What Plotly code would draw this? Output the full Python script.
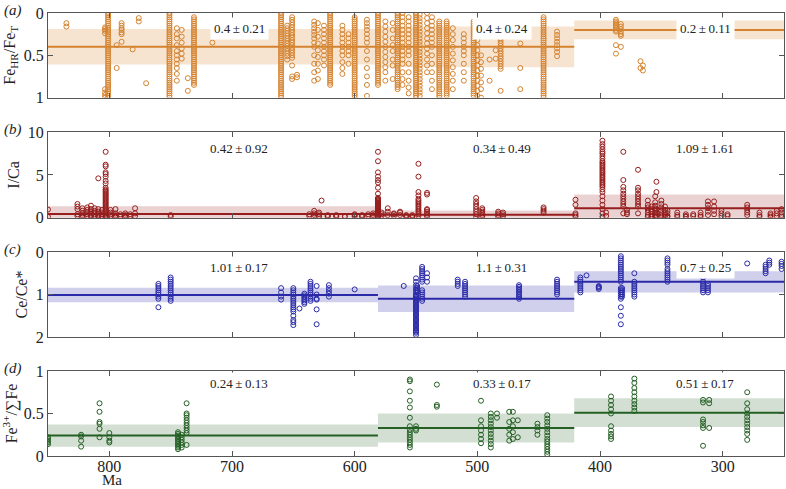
import plotly.graph_objects as go

# segment boundaries (Ma)
seg_start = [850, 581, 421]
seg_end = [581, 421, 250]

# (a) FeHR/FeT
fe_mean = [0.4, 0.4, 0.2]
fe_sd = [0.21, 0.24, 0.11]
fe_cols = [
    (835, [0.12, 0.16]),
    (803.5, [0.17, 0.19, 0.21, 0.24, 0.9, 0.94, 0.97, 1.0]),
    (801, [0.0, 0.025, 0.05, 0.075, 0.1, 0.125, 0.15, 0.175, 0.2, 0.225, 0.25, 0.275, 0.3,
           0.325, 0.35, 0.375, 0.4, 0.425, 0.45, 0.475, 0.5, 0.525, 0.55, 0.575, 0.6, 0.625,
           0.65, 0.675, 0.7, 0.725, 0.75, 0.775, 0.8, 0.825, 0.85, 0.875, 0.9, 0.925, 0.95,
           0.975, 1.0]),
    (794, [0.38, 0.65]),
    (790, [0.12, 0.15, 0.18, 0.2, 0.23, 0.25, 0.34]),
    (781, [0.43]),
    (776, [0.06, 0.1]),
    (770, [0.83]),
    (751, [0.0, 0.025, 0.05, 0.075, 0.1, 0.125, 0.15, 0.175, 0.2, 0.225, 0.25, 0.275, 0.3,
           0.325, 0.35, 0.375, 0.4, 0.425, 0.45, 0.475, 0.5, 0.525, 0.55, 0.575, 0.6, 0.625,
           0.65, 0.675, 0.7, 0.725, 0.75, 0.775, 0.8, 0.825, 0.85, 0.875, 0.9, 0.925, 0.95,
           0.975, 1.0]),
    (745, [0.18, 0.25, 0.3, 0.38, 0.45, 0.5, 0.55, 0.6, 0.65, 0.72, 0.8]),
    (741, [0.2, 0.28, 0.35, 0.42, 0.48, 0.54]),
    (736, [0.77, 0.92]),
    (731, [0.05, 0.075, 0.1, 0.125, 0.15, 0.175, 0.2, 0.225, 0.25, 0.275, 0.3, 0.325, 0.35,
           0.375, 0.4, 0.425, 0.45, 0.475, 0.5, 0.525, 0.55, 0.575, 0.6, 0.625, 0.65, 0.675,
           0.7, 0.725, 0.75, 0.775, 0.8, 0.825, 0.85]),
    (716, [0.35]),
    (660, [0.0, 0.025, 0.05, 0.075, 0.1, 0.125, 0.15, 0.175, 0.2, 0.225, 0.25, 0.275, 0.3,
           0.325, 0.35, 0.375, 0.4, 0.425, 0.45, 0.475, 0.5, 0.525, 0.55, 0.575, 0.6, 0.625,
           0.65, 0.675, 0.7, 0.725, 0.75, 0.775, 0.8, 0.825, 0.85, 0.875, 0.9, 0.925, 0.95,
           0.975, 1.0]),
    (655, [0.15, 0.18, 0.21, 0.24, 0.27, 0.3, 0.33, 0.36, 0.39, 0.42, 0.45, 0.48, 0.51, 0.55]),
    (651, [0.05, 0.08, 0.11, 0.14, 0.17, 0.2, 0.23, 0.26, 0.29, 0.32, 0.35, 0.38, 0.41, 0.44,
           0.47, 0.5, 0.53, 0.62, 0.75, 0.78]),
    (647, [0.73, 0.76]),
    (633, [0.1, 0.14, 0.18, 0.22, 0.26, 0.3, 0.35, 0.4, 0.5, 0.6, 0.7, 0.8]),
    (630, [0.12, 0.2, 0.28, 0.36, 0.44, 0.52, 0.6, 0.68, 0.78]),
    (625, [0.15, 0.2, 0.25, 0.3, 0.35, 0.4, 0.45, 0.5, 0.55, 0.62]),
    (620, [0.0, 0.025, 0.05, 0.075, 0.1, 0.125, 0.15, 0.175, 0.2, 0.225, 0.25, 0.275, 0.3,
           0.325, 0.35, 0.375, 0.4, 0.425, 0.45, 0.475, 0.5, 0.525, 0.55, 0.575, 0.6, 0.625,
           0.65, 0.675, 0.7, 0.725, 0.75, 0.775, 0.8, 0.825, 0.85]),
    (610, [0.15, 0.2, 0.25, 0.3, 0.35, 0.4, 0.45, 0.5, 0.58, 0.65, 0.72]),
    (605, [0.25, 0.3, 0.35, 0.4, 0.45, 0.5, 0.6]),
    (600, [0.05, 0.075, 0.1, 0.125, 0.15, 0.175, 0.2, 0.225, 0.25, 0.275, 0.3, 0.325, 0.35,
           0.375, 0.4, 0.425, 0.45, 0.475, 0.5, 0.525, 0.55, 0.575, 0.6, 0.625, 0.65, 0.675,
           0.7, 0.725, 0.75, 0.775, 0.8, 0.825, 0.85, 0.875, 0.9, 0.925, 0.95, 0.975, 1.0]),
    (590, [0.08, 0.12, 0.16, 0.2, 0.25, 0.3, 0.35, 0.45, 0.55, 0.65, 0.75, 0.85, 0.98]),
    (581, [0.0, 0.025, 0.05, 0.075, 0.1, 0.125, 0.15, 0.175, 0.2, 0.225, 0.25, 0.275, 0.3,
           0.325, 0.35, 0.375, 0.4, 0.425, 0.45, 0.475, 0.5, 0.525, 0.55, 0.575, 0.6, 0.625,
           0.65, 0.675, 0.7, 0.725, 0.75, 0.775, 0.8, 0.825, 0.85]),
    (575, [0.1, 0.16, 0.22, 0.28, 0.34, 0.4, 0.46, 0.52, 0.58, 0.64, 0.7, 0.8]),
    (569, [0.12, 0.2, 0.3, 0.38, 0.45, 0.55, 0.62, 0.78]),
    (565, [0.0, 0.025, 0.05, 0.075, 0.1, 0.125, 0.15, 0.175, 0.2, 0.225, 0.25, 0.275, 0.3,
           0.325, 0.35, 0.375, 0.4, 0.425, 0.45, 0.475, 0.5, 0.525, 0.55, 0.575, 0.6, 0.625,
           0.65, 0.675, 0.7, 0.725, 0.75, 0.775, 0.8, 0.825, 0.85, 0.875, 0.9]),
    (561, [0.0, 0.05, 0.1, 0.15, 0.2, 0.25, 0.3, 0.35, 0.4, 0.45, 0.5, 0.55, 0.6, 0.7, 0.78, 0.85]),
    (556, [0.05, 0.1, 0.15, 0.2, 0.25, 0.3, 0.35, 0.4, 0.45, 0.5, 0.6, 0.7, 0.8, 0.88, 0.95]),
    (550, [0.0, 0.025, 0.05, 0.075, 0.1, 0.125, 0.15, 0.175, 0.2, 0.225, 0.25, 0.275, 0.3,
           0.325, 0.35, 0.375, 0.4, 0.425, 0.45, 0.475, 0.5, 0.525, 0.55, 0.575, 0.6, 0.625,
           0.65, 0.675, 0.7, 0.725, 0.75, 0.775, 0.8, 0.825, 0.85, 0.875, 0.9, 0.925, 0.95,
           0.975, 1.0]),
    (547, [0.02, 0.06, 0.1, 0.14, 0.18, 0.22, 0.26, 0.3, 0.34, 0.38, 0.42, 0.46, 0.5,
           0.54, 0.58, 0.62, 0.66, 0.7, 0.74, 0.78, 0.82, 0.86, 0.9, 0.94, 0.98]),
    (541, [0.0, 0.06, 0.12, 0.18, 0.24, 0.3, 0.36, 0.42, 0.48, 0.55, 0.62, 0.7]),
    (537, [0.05, 0.1, 0.15, 0.2, 0.25, 0.3, 0.35, 0.4, 0.5, 0.6, 0.7, 0.8, 0.9]),
    (531, [0.1, 0.125, 0.15, 0.175, 0.2, 0.225, 0.25, 0.275, 0.3, 0.325, 0.35, 0.375, 0.4,
           0.425, 0.45, 0.475, 0.5, 0.525, 0.55, 0.575, 0.6, 0.625, 0.65, 0.675, 0.7, 0.725,
           0.75, 0.775, 0.8, 0.825, 0.85, 0.875, 0.9, 0.925, 0.95, 0.975, 1.0]),
    (525, [0.1, 0.125, 0.15, 0.175, 0.2, 0.225, 0.25, 0.275, 0.3, 0.325, 0.35, 0.375, 0.4,
           0.425, 0.45, 0.475, 0.5, 0.525, 0.55, 0.575, 0.6, 0.625, 0.65, 0.675, 0.7, 0.725,
           0.75, 0.775, 0.8, 0.825, 0.85, 0.875, 0.9, 0.925, 0.95, 0.975]),
    (520, [0.18, 0.25, 0.32, 0.4, 0.48, 0.56, 0.64, 0.72, 0.8, 0.9]),
    (511, [0.25, 0.3, 0.35, 0.4, 0.45, 0.5, 0.6, 0.7, 0.8]),
    (503, [0.1, 0.125, 0.15, 0.175, 0.2, 0.225, 0.25, 0.275, 0.3, 0.325, 0.35, 0.375, 0.4,
           0.425, 0.45, 0.475, 0.5, 0.525, 0.55, 0.575, 0.6, 0.625, 0.65, 0.675, 0.7, 0.725,
           0.75, 0.775, 0.8, 0.825, 0.85, 0.875, 0.9, 0.925, 0.95, 0.975]),
    (500, [0.2, 0.26, 0.32, 0.38, 0.44, 0.5, 0.56, 0.62, 0.68, 0.74, 0.8, 0.86, 0.92, 0.98]),
    (497, [0.5, 0.58, 0.66, 0.74, 0.82, 0.9, 1.0]),
    (490, [0.55, 0.8]),
    (485, [0.44, 0.54]),
    (481, [0.27, 0.3, 0.33, 0.36, 0.39, 0.42, 0.45, 0.48, 0.51, 0.54, 0.57, 0.6, 0.63, 0.66, 0.92]),
    (465, [0.36, 0.65, 0.9]),
    (446, [0.05, 0.075, 0.1, 0.125, 0.15, 0.175, 0.2, 0.225, 0.25, 0.275, 0.3, 0.325, 0.35,
           0.375, 0.4, 0.425, 0.45, 0.475, 0.5, 0.525, 0.55, 0.575, 0.6, 0.625, 0.65, 0.675,
           0.7, 0.725, 0.75, 0.775, 0.8, 0.825, 0.85, 0.875, 0.9, 0.925, 0.95, 0.975, 1.0]),
    (435, [0.22, 0.26, 0.3, 0.34, 0.38, 0.42, 0.46, 0.51]),
    (387, [0.08, 0.1, 0.12, 0.14, 0.16, 0.18, 0.2, 0.22, 0.38, 0.48]),
    (383, [0.13, 0.16, 0.19, 0.22, 0.25, 0.27, 0.4]),
    (367, [0.57, 0.65]),
    (365, [0.62, 0.68]),
]

# (b) I/Ca
ica_mean = [0.42, 0.34, 1.09]
ica_sd = [0.92, 0.49, 1.61]
ica_cols = [
    (850, [0.1, 0.95]),
    (826, [0.2, 0.4, 1.0, 1.3, 1.6]),
    (822, [0.1, 0.3, 0.5, 0.8, 1.1]),
    (818, [0.2, 0.4, 0.6, 0.9, 1.2]),
    (815, [0.1, 0.3, 0.5, 0.7, 1.0, 1.4]),
    (812, [0.1, 0.2, 0.4, 0.6, 0.8, 1.1]),
    (809, [0.1, 0.3, 0.5, 0.7, 1.0, 4.6]),
    (806, [0.1, 0.2, 0.4, 0.6, 0.9]),
    (803, [0.0, 0.15, 0.3, 0.45, 0.6, 0.75, 0.9, 1.05, 1.2, 1.35, 1.5, 1.65, 1.8, 1.95, 2.1,
           2.25, 2.4, 2.55, 2.7, 2.85, 3.0, 3.15, 3.3, 3.5, 4.0, 4.3, 4.8, 5.1, 5.3, 6.0, 6.2, 7.7]),
    (799, [0.1, 0.2, 0.4, 0.6, 0.9]),
    (795, [0.1, 0.3, 0.5, 1.0]),
    (791, [0.1, 0.2, 0.4]),
    (787, [0.1, 0.3, 0.5]),
    (783, [0.1, 0.2, 0.4]),
    (779, [0.2, 0.5, 1.1]),
    (750, [0.1, 0.3]),
    (637, [0.2, 0.4]),
    (633, [0.3, 0.5, 0.8]),
    (629, [0.1, 0.2, 0.4, 0.6]),
    (627, [2.0]),
    (622, [0.1, 0.2, 0.3]),
    (615, [0.1, 0.2, 0.3]),
    (608, [0.1, 0.2]),
    (600, [0.1, 0.3, 0.4]),
    (594, [0.1, 0.2, 0.3]),
    (589, [0.2, 0.4]),
    (585, [0.1, 0.3, 0.5]),
    (581, [0.0, 0.1, 0.2, 0.3, 0.4, 0.5, 0.6, 0.7, 0.8, 0.9, 1.0, 1.1, 1.2, 1.3, 1.4, 1.5,
           1.6, 1.7, 1.8, 1.9, 2.0, 2.1, 2.2, 2.3, 2.8, 3.5, 4.1, 4.4, 4.8, 5.3, 6.6, 7.7]),
    (578, [0.2, 0.4, 0.6]),
    (573, [0.3, 0.7, 1.1]),
    (568, [0.2, 0.4, 0.5]),
    (563, [0.3, 0.6, 0.7]),
    (558, [0.1, 0.2, 0.3]),
    (553, [0.1, 0.2, 0.3]),
    (548, [0.2, 0.4, 0.6, 0.8, 1.0, 1.2, 1.4, 1.6, 1.8, 2.0, 2.2, 2.6, 3.0, 4.8, 6.3]),
    (541, [0.1, 0.3, 0.5, 0.7, 0.9, 1.0, 2.7, 2.9]),
    (501, [0.1, 0.4, 0.7, 1.0, 1.3, 1.6, 1.9, 2.3]),
    (496, [0.1, 0.3, 0.5, 0.7, 0.9, 1.1]),
    (483, [0.1, 0.3, 0.5, 0.7]),
    (479, [0.2, 0.4, 0.6]),
    (446, [0.6, 0.8, 1.0, 1.2]),
    (420, [0.1, 0.3, 0.5, 1.5, 2.1]),
    (398, [0.1, 0.5, 1.0, 1.5, 2.0, 2.5, 3.0, 3.3, 3.6, 3.8, 4.0, 4.2, 4.4, 4.6, 4.8, 5.0,
           5.2, 5.4, 5.6, 5.8, 6.0, 6.2, 6.4, 6.6, 6.9, 7.2, 7.5, 7.7, 8.0, 8.3, 8.6, 9.0]),
    (395, [0.2, 0.6]),
    (381, [0.5, 1.3, 1.6, 1.9, 2.2, 2.5, 2.8, 3.2, 3.6, 4.4, 7.7]),
    (378, [0.4, 0.6, 0.9]),
    (369, [0.5, 1.3, 1.6, 1.9, 2.2, 2.5, 2.8, 3.2, 3.5, 5.6]),
    (361, [0.1, 0.3, 0.6, 0.9, 1.2, 1.5, 2.0]),
    (358, [0.1, 0.2, 0.4, 0.7, 1.0, 1.3]),
    (355, [0.1, 0.3, 0.5, 0.8, 1.1, 1.4, 1.8, 2.5]),
    (354, [0.2, 0.6, 1.0, 3.0, 4.2]),
    (350, [0.1, 0.3, 0.5, 0.8, 1.2, 1.6, 2.0]),
    (347, [0.1, 0.3, 0.6, 0.9, 1.3]),
    (345, [0.1, 0.2, 0.5, 0.8]),
    (337, [0.1, 0.3, 0.6]),
    (330, [0.1, 0.2, 0.4]),
    (324, [0.2, 0.4]),
    (318, [0.1, 0.3, 0.6]),
    (312, [0.3, 0.7, 1.1, 1.5, 1.9]),
    (307, [0.4, 0.8, 1.3, 1.9]),
    (301, [0.2, 0.5, 0.8]),
    (296, [0.2, 0.4]),
    (280, [0.3, 0.6, 0.9, 1.2, 1.5]),
    (270, [0.1, 0.3, 0.6]),
    (261, [0.1, 0.3, 0.5]),
    (256, [0.2, 0.5, 0.8]),
    (252, [0.1, 0.3, 0.6, 1.0]),
]

# (c) Ce/Ce*
ce_mean = [1.01, 1.1, 0.7]
ce_sd = [0.17, 0.31, 0.25]
ce_cols = [
    (760, [0.75, 0.8, 0.85, 0.9, 0.95, 1.0, 1.05, 1.1, 1.3]),
    (750, [0.6, 0.65, 0.7, 0.75, 0.8, 0.85, 0.9, 0.95, 1.0, 1.05, 1.1, 1.15]),
    (660, [0.85, 0.95, 1.05, 1.12]),
    (650, [0.85, 0.9, 0.95, 1.0, 1.05, 1.1, 1.15, 1.2, 1.25, 1.3, 1.35, 1.4, 1.5, 1.6, 1.65, 1.72]),
    (645, [1.33]),
    (641, [0.98, 1.02, 1.06, 1.1, 1.14, 1.18, 1.22]),
    (636, [0.7, 0.75, 0.8, 0.85, 0.9, 0.95, 1.0, 1.05, 1.1, 1.15]),
    (631, [0.8, 1.0, 1.1, 1.12, 1.35, 1.7]),
    (621, [0.78, 0.85, 0.92, 0.98, 1.05]),
    (600, [0.88]),
    (560, [0.8]),
    (550, [0.62, 0.7, 0.78, 0.85, 0.9, 0.95, 1.0, 1.03, 1.06, 1.09, 1.12, 1.15, 1.18, 1.21,
           1.24, 1.27, 1.3, 1.33, 1.36, 1.39, 1.42, 1.45, 1.48, 1.51, 1.54, 1.57, 1.6, 1.63,
           1.66, 1.69, 1.72, 1.75, 1.78, 1.81, 1.84, 1.87, 1.9, 1.95]),
    (549, [0.8, 0.85, 0.9, 0.95]),
    (545, [0.35, 0.4, 0.45, 0.5, 0.55, 0.6, 0.65, 0.7, 0.9, 0.95, 1.0, 1.05, 1.1, 1.15]),
    (541, [0.5, 0.6, 0.7]),
    (516, [0.65, 0.7, 0.75, 0.8]),
    (510, [0.7, 0.75, 0.8, 0.85, 0.9, 0.95, 1.0, 1.05]),
    (466, [0.78, 0.82, 0.86, 0.9, 0.94, 0.98, 1.02, 1.06, 1.1]),
    (435, [0.65, 0.7, 0.75, 0.8, 0.85, 0.9, 0.95, 1.0]),
    (416, [0.6, 0.65, 0.7, 0.75, 0.8, 0.85, 0.9, 0.95]),
    (411, [0.55]),
    (401, [0.8, 0.82, 0.84, 0.87]),
    (383, [0.1, 0.15, 0.2, 0.25, 0.3, 0.35, 0.4, 0.45, 0.5, 0.55, 0.6, 0.65, 0.7, 0.85,
           0.9, 0.95, 1.0, 1.05, 1.1, 1.3, 1.5, 1.7]),
    (382, [0.85, 0.9, 0.95, 1.0, 1.05]),
    (372, [0.5, 0.7, 0.75, 0.8, 0.85, 0.9, 0.95, 1.0, 1.05]),
    (345, [0.15, 0.2, 0.25, 0.3, 0.4, 0.45, 0.5, 0.55, 0.6, 0.65, 0.7]),
    (316, [0.6, 0.7, 0.75, 0.8, 0.85, 0.9, 0.95]),
    (312, [0.75, 0.8, 0.85, 0.9, 0.95]),
    (280, [0.27]),
    (265, [0.3, 0.35, 0.4, 0.45, 0.5]),
    (262, [0.2, 0.25, 0.3]),
    (252, [0.23, 0.28, 0.33, 0.4]),
]

# (d) Fe3+/sum Fe
fe3_mean = [0.24, 0.33, 0.51]
fe3_sd = [0.13, 0.17, 0.17]
fe3_cols = [
    (850, [0.14, 0.16, 0.18, 0.2, 0.22]),
    (823, [0.11, 0.18, 0.23, 0.25]),
    (808, [0.22, 0.32, 0.38, 0.4, 0.52, 0.62]),
    (800, [0.16, 0.18, 0.22, 0.27]),
    (744, [0.08, 0.1, 0.12, 0.14, 0.16, 0.18, 0.2, 0.22, 0.24, 0.26, 0.28]),
    (741, [0.1, 0.13, 0.16, 0.19, 0.22, 0.25]),
    (737, [0.13, 0.27, 0.3, 0.33, 0.36, 0.39, 0.42, 0.45, 0.48, 0.5, 0.62]),
    (555, [0.1, 0.13, 0.16, 0.19, 0.22, 0.25, 0.28, 0.31, 0.35, 0.45, 0.57, 0.65, 0.76, 0.88, 0.9]),
    (550, [0.3, 0.32, 0.35]),
    (533, [0.58, 0.6, 0.84]),
    (497, [0.15, 0.2, 0.25, 0.3, 0.35, 0.42, 0.65]),
    (489, [0.1, 0.14, 0.18, 0.22, 0.26, 0.3, 0.34, 0.38, 0.42, 0.46, 0.5]),
    (484, [0.45, 0.5]),
    (474, [0.18, 0.25, 0.32, 0.4, 0.52]),
    (471, [0.2, 0.28, 0.35, 0.42, 0.52]),
    (467, [0.22, 0.42]),
    (451, [0.25, 0.3, 0.34, 0.38]),
    (443, [0.02, 0.05, 0.08, 0.11, 0.14, 0.17, 0.2, 0.24, 0.28, 0.32, 0.36, 0.4, 0.44, 0.48]),
    (391, [0.2, 0.23, 0.26, 0.3, 0.35, 0.5, 0.55, 0.6, 0.65, 0.7]),
    (372, [0.53, 0.57, 0.61, 0.65, 0.7, 0.75, 0.8, 0.86, 0.91]),
    (316, [0.12, 0.33, 0.36, 0.4, 0.43, 0.63, 0.66]),
    (311, [0.33, 0.62, 0.66]),
    (280, [0.19, 0.26, 0.3, 0.34, 0.38, 0.42, 0.46, 0.5, 0.55, 0.62, 0.75]),
]

panels = [
    dict(cols=fe_cols, mean=fe_mean, sd=fe_sd, color='#D5832F', band='rgba(213,131,47,0.22)',
         title='Fe<sub>HR</sub>/Fe<sub>T</sub>', rng=[1, 0], ticks=[0, 0.5, 1], ticktext=['0', '0.5', '1'],
         label_y=0.18, letter='(a)'),
    dict(cols=ica_cols, mean=ica_mean, sd=ica_sd, color='#961E1E', band='rgba(150,30,30,0.2)',
         title='I/Ca', rng=[0, 10], ticks=[0, 5, 10], ticktext=['0', '5', '10'],
         label_y=8.1, letter='(b)'),
    dict(cols=ce_cols, mean=ce_mean, sd=ce_sd, color='#2A2AA8', band='rgba(42,42,168,0.22)',
         title='Ce/Ce*', rng=[2, 0], ticks=[0, 1, 2], ticktext=['0', '1', '2'],
         label_y=0.37, letter='(c)'),
    dict(cols=fe3_cols, mean=fe3_mean, sd=fe3_sd, color='#246024', band='rgba(36,96,36,0.2)',
         title='Fe<sup>3+</sup>/∑Fe', rng=[0, 1], ticks=[0, 0.5, 1], ticktext=['0', '0.5', '1'],
         label_y=0.85, letter='(d)'),
]
label_x = [694, 480, 314]
domains = [[0.809, 1.0], [0.538, 0.731], [0.2686, 0.4605], [0.0, 0.1919]]

FONT = 'Liberation Serif'
AX = '#555555'
TXT = '#222222'

fig = go.Figure()
annotations = []
for i, p in enumerate(panels):
    n = '' if i == 0 else str(i + 1)
    xa, ya = 'x' + n, 'y' + n
    # +/- 1 sd bands
    for s, e, m, sd in zip(seg_start, seg_end, p['mean'], p['sd']):
        lo, hi = m - sd, m + sd
        fig.add_trace(go.Scatter(x=[s, e, e, s, s], y=[lo, lo, hi, hi, lo], fill='toself',
                                 fillcolor=p['band'], line=dict(width=0), mode='lines',
                                 hoverinfo='skip', showlegend=False, xaxis=xa, yaxis=ya))
    xs, ys = [], []
    for age, vals in p['cols']:
        xs += [age] * len(vals)
        ys += vals
    fig.add_trace(go.Scatter(x=xs, y=ys, mode='markers', showlegend=False,
                             marker=dict(symbol='circle-open', size=5, color=p['color'],
                                         line=dict(width=1, color=p['color'])),
                             xaxis=xa, yaxis=ya))
    # segment means
    for s, e, m in zip(seg_start, seg_end, p['mean']):
        fig.add_trace(go.Scatter(x=[s, e], y=[m, m], mode='lines', showlegend=False,
                                 line=dict(color=p['color'], width=2), xaxis=xa, yaxis=ya))
    for lx, m, sd in zip(label_x, p['mean'], p['sd']):
        annotations.append(dict(x=lx, y=p['label_y'], xref=xa, yref=ya,
                                text=f'{m:g}\u2009±\u2009{sd:g}', showarrow=False,
                                bgcolor='white', borderpad=3,
                                font=dict(family=FONT, size=13, color=TXT)))
    annotations.append(dict(x=-0.062, y=domains[i][1] + 0.005, xref='paper', yref='paper',
                            text=f'<i>{p["letter"]}</i>', showarrow=False, xanchor='left',
                            yanchor='middle', font=dict(family=FONT, size=15, color=TXT)))

    fig.update_layout(**{
        ('xaxis' + n): dict(domain=[0, 1], range=[850, 250], anchor=ya,
                            tickvals=[800, 700, 600, 500, 400, 300],
                            showticklabels=(i == 3), ticks='inside', ticklen=5,
                            tickcolor=AX, linecolor=AX, mirror='ticks', showline=True,
                            showgrid=False, zeroline=False, automargin=False,
                            ticklabelstandoff=-4,
                            tickfont=dict(family=FONT, size=16, color=TXT)),
        ('yaxis' + n): dict(domain=domains[i], range=p['rng'], anchor=xa,
                            tickvals=p['ticks'], ticktext=p['ticktext'],
                            ticks='inside', ticklen=5, tickcolor=AX, linecolor=AX,
                            mirror='ticks', showline=True, showgrid=False, zeroline=False,
                            automargin=False,
                            tickfont=dict(family=FONT, size=16, color=TXT),
                            title=dict(text=p['title'], standoff=4,
                                       font=dict(family=FONT, size=16, color=TXT))),
    })

annotations.append(dict(x=0.072, y=-0.055, xref='paper', yref='paper', text='Ma',
                        showarrow=False, yanchor='middle', borderpad=0,
                        font=dict(family=FONT, size=15, color=TXT)))

fig.update_layout(width=786, height=489, margin=dict(l=48, r=2, t=13, b=33),
                  plot_bgcolor='white', paper_bgcolor='white', annotations=annotations)

# drop the default page margin so the figure sits at the window origin
fig.write_html("out.html", config={'displayModeBar': False},
               post_script="document.body.style.margin='0';")
